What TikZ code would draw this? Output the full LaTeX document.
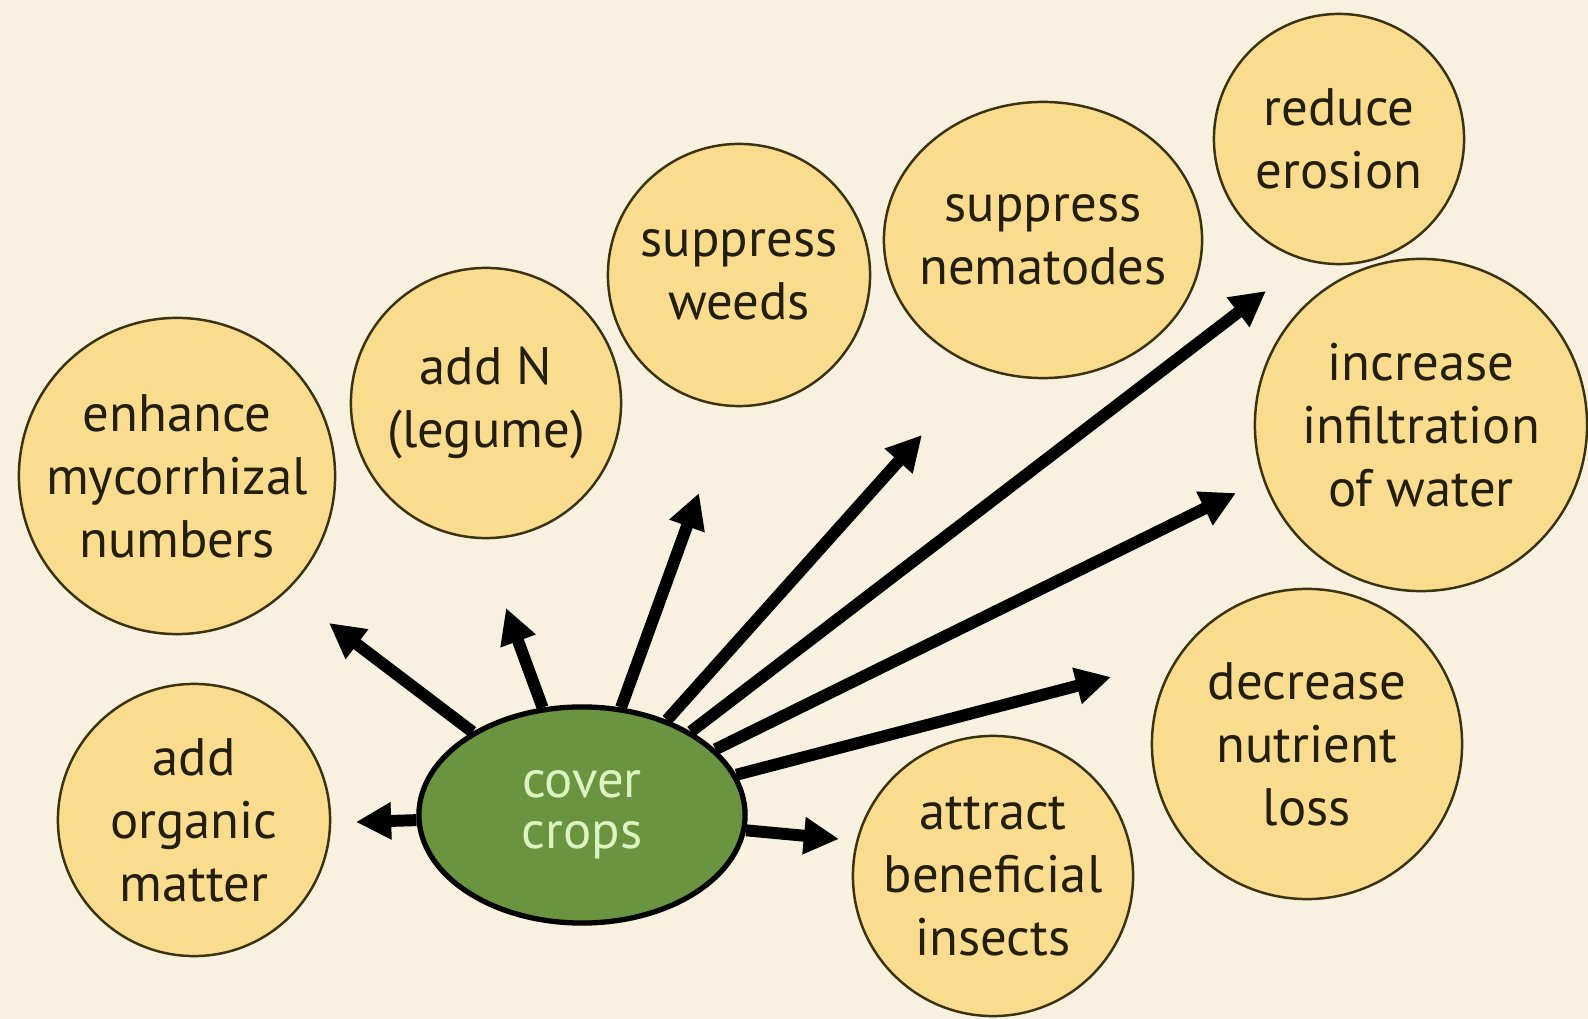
\documentclass[tikz,border=0pt]{standalone}
\usepackage{fontspec}
\setmainfont{PT Sans}
\usetikzlibrary{shapes.geometric,arrows.meta}
\definecolor{bgc}{HTML}{F8F1DF}
\definecolor{circfill}{HTML}{F9DC8E}
\definecolor{circline}{HTML}{3B3212}
\definecolor{txt}{HTML}{241E0E}
\definecolor{ccfill}{HTML}{6A9440}
\definecolor{cctext}{HTML}{DDF4C2}
\pgfdeclarelayer{bg}
\pgfdeclarelayer{arr}
\pgfsetlayers{bg,arr,main}
\begin{document}
\begin{tikzpicture}[x=0.01cm,y=-0.01cm,
  benefit/.style={circle, draw=circline, line width=0.7pt, fill=circfill, text=txt,
    align=center, font=\fontsize{15}{17.9}\selectfont, inner sep=0pt},
  hub/.style={ellipse, draw=black, line width=1.5pt, fill=ccfill, text=cctext,
    align=center, font=\fontsize{15}{14.5}\selectfont, minimum width=3.26cm, minimum height=2.16cm, inner sep=0pt},
  effect/.style={line width=3.4pt, -{Triangle[length=10pt,width=10pt]}}]
\begin{pgfonlayer}{bg}
\fill[bgc] (0,0) rectangle (1588,1019);
\end{pgfonlayer}
\useasboundingbox (0,0) rectangle (1588,1019);

\node[benefit, minimum size=3.16cm] (myc) at (177,476) {enhance\\mycorrhizal\\numbers};
\node[benefit, minimum size=2.7cm] (addn) at (486,403) {add N\\(legume)};
\node[benefit, minimum size=2.62cm] (weeds) at (739,275) {suppress\\weeds};
\node[benefit, ellipse, inner xsep=-0.5cm, minimum width=3.18cm, minimum height=2.76cm] (nem) at (1043,240) {suppress\\nematodes};
\node[benefit, minimum size=2.5cm] (eros) at (1339,139) {reduce\\erosion};
\node[benefit, minimum size=3.32cm] (infil) at (1421,425) {increase\\infiltration\\of water};
\node[benefit, minimum size=3.1cm] (nutr) at (1307,744) {decrease\\nutrient\\loss};
\node[benefit, minimum size=2.8cm] (ins) at (993,876) {attract\\beneficial\\insects};
\node[benefit, minimum size=2.72cm] (org) at (194,820) {add\\organic\\matter};
\node[hub] (cc) at (582,815) {cover\\crops};

\coordinate (t1) at (356,822);
\coordinate (t2) at (329,623);
\coordinate (t3) at (506,608);
\coordinate (t4) at (699,493);
\coordinate (t5) at (922,435);
\coordinate (t6) at (1266,291);
\coordinate (t7) at (1236,493);
\coordinate (t8) at (1111,677);
\coordinate (t9) at (839,839);

\begin{pgfonlayer}{arr}
\foreach \t in {t1,t2,t3,t4,t5,t6,t7,t8,t9}
  \draw[effect] (cc) -- (\t);
\end{pgfonlayer}
\end{tikzpicture}
\end{document}
